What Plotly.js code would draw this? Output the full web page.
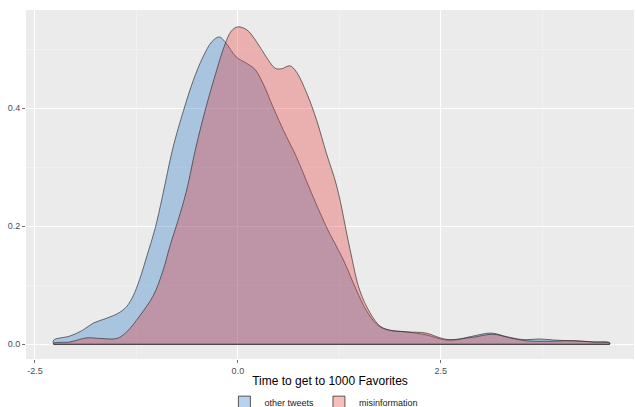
<!DOCTYPE html>
<html>
<head>
<meta charset="utf-8">
<script src="https://cdn.plot.ly/plotly-3.0.1.min.js"></script>
<style>html,body{margin:0;padding:0;background:#fff;}#chart{width:636px;height:407px;}</style>
</head>
<body>
<div id="chart"></div>
<script>
// Density estimates (log10 scale time)
const otherX = [-2.27, -2.07, -1.91, -1.78, -1.62, -1.47, -1.37, -1.29, -1.21, -1.12, -1.02, -0.93, -0.80, -0.67, -0.55, -0.43, -0.32, -0.23, -0.16, -0.02, 0.11, 0.21, 0.31, 0.43, 0.56, 0.72, 0.89, 1.09, 1.30, 1.46, 1.58, 1.71, 1.83, 2.08, 2.32, 2.53, 2.65, 2.90, 3.12, 3.31, 3.51, 3.72, 3.92, 4.13, 4.38, 4.58];
const otherY = [0.007, 0.014, 0.024, 0.036, 0.044, 0.053, 0.064, 0.082, 0.110, 0.150, 0.196, 0.250, 0.333, 0.396, 0.447, 0.487, 0.513, 0.521, 0.513, 0.487, 0.476, 0.466, 0.442, 0.403, 0.363, 0.318, 0.262, 0.199, 0.143, 0.092, 0.058, 0.034, 0.025, 0.021, 0.016, 0.008, 0.007, 0.014, 0.019, 0.013, 0.008, 0.009, 0.007, 0.006, 0.004, 0.003];

const misX = [-2.27, -2.07, -1.86, -1.70, -1.49, -1.37, -1.21, -1.04, -0.92, -0.84, -0.71, -0.63, -0.51, -0.39, -0.26, -0.16, -0.08, 0.00, 0.11, 0.23, 0.35, 0.46, 0.54, 0.64, 0.72, 0.85, 0.97, 1.09, 1.22, 1.38, 1.50, 1.63, 1.75, 1.87, 2.08, 2.32, 2.49, 2.61, 2.90, 3.14, 3.35, 3.55, 3.80, 4.13, 4.38, 4.58];
const misY = [0.002, 0.004, 0.011, 0.010, 0.010, 0.021, 0.048, 0.083, 0.126, 0.165, 0.222, 0.262, 0.338, 0.403, 0.465, 0.508, 0.531, 0.538, 0.533, 0.513, 0.487, 0.468, 0.467, 0.472, 0.462, 0.425, 0.380, 0.324, 0.267, 0.162, 0.092, 0.053, 0.031, 0.024, 0.021, 0.019, 0.011, 0.008, 0.012, 0.017, 0.011, 0.006, 0.005, 0.006, 0.004, 0.002];

const seriesNames = ["other tweets", "misinformation"];
const xTickVals = [-2.5, 0, 2.5];
const xTickText = ["-2.5", "0.0", "2.5"];
const yTickVals = [0, 0.2, 0.4];
const yTickText = ["0.0", "0.2", "0.4"];

const fills = ["rgba(32,117,201,0.33)", "rgba(235,55,55,0.33)"];
const outline = "#333333";

function areaTrace(xs, ys, name, fill, group) {
  const n = xs.length;
  return {type: "scatter", mode: "lines",
    x: [xs[0]].concat(xs, [xs[n - 1]]), y: [0].concat(ys, [0]),
    fill: "tozeroy", fillcolor: fill,
    line: {color: outline, width: 0.7, shape: "spline", smoothing: 1},
    name: name, legendgroup: group, showlegend: false, hoverinfo: "skip"};
}
function baseTrace(xs, group) {
  return {type: "scatter", mode: "lines", x: [xs[0], xs[xs.length - 1]], y: [0, 0],
    line: {color: outline, width: 0.8}, legendgroup: group, showlegend: false, hoverinfo: "skip"};
}

const traces = [
  areaTrace(otherX, otherY, seriesNames[0], fills[0], "o"),
  baseTrace(otherX, "o"),
  areaTrace(misX, misY, seriesNames[1], fills[1], "m"),
  baseTrace(misX, "m"),
  {type: "bar", x: [null], y: [null], name: seriesNames[0], legendgroup: "o",
   marker: {color: fills[0], line: {color: outline, width: 0.8}}, showlegend: true},
  {type: "bar", x: [null], y: [null], name: seriesNames[1], legendgroup: "m",
   marker: {color: fills[1], line: {color: outline, width: 0.8}}, showlegend: true}
];

const tickFont = {family: "Liberation Sans, Arial, sans-serif", size: 9, color: "#4d4d4d"};

const layout = {
  width: 636, height: 407,
  margin: {l: 26, r: 2, t: 10, b: 48},
  paper_bgcolor: "#ffffff",
  plot_bgcolor: "#ebebeb",
  showlegend: true,
  legend: {orientation: "h", x: 0.49, xanchor: "center", yref: "container", y: 0.012, yanchor: "middle",
           font: {family: "Liberation Sans, Arial, sans-serif", size: 9, color: "#1a1a1a"},
           itemwidth: 30, bgcolor: "rgba(0,0,0,0)"},
  xaxis: {
    range: [-2.61, 4.88], tickmode: "array", tickvals: xTickVals, ticktext: xTickText,
    showgrid: true, gridcolor: "#ffffff", gridwidth: 1, zeroline: false, showline: false,
    ticks: "outside", ticklen: 3, tickcolor: "#333333", tickwidth: 0.7, tickfont: tickFont,
    minor: {dtick: 1.25, tick0: 0, showgrid: true, gridcolor: "#f5f5f5", gridwidth: 0.6, ticks: ""},
    title: {text: "Time to get to 1000 Favorites", font: {family: "Liberation Sans, Arial, sans-serif", size: 12, color: "#000000"}, standoff: 4},
    fixedrange: true
  },
  yaxis: {
    range: [-0.0249, 0.5666], tickmode: "array", tickvals: yTickVals, ticktext: yTickText,
    showgrid: true, gridcolor: "#ffffff", gridwidth: 1, zeroline: false, showline: false,
    ticks: "outside", ticklen: 3, tickcolor: "#333333", tickwidth: 0.7, tickfont: tickFont,
    minor: {dtick: 0.1, tick0: 0, showgrid: true, gridcolor: "#f5f5f5", gridwidth: 0.6, ticks: ""},
    fixedrange: true
  }
};

Plotly.newPlot("chart", traces, layout, {displayModeBar: false, staticPlot: true});
</script>
</body>
</html>
